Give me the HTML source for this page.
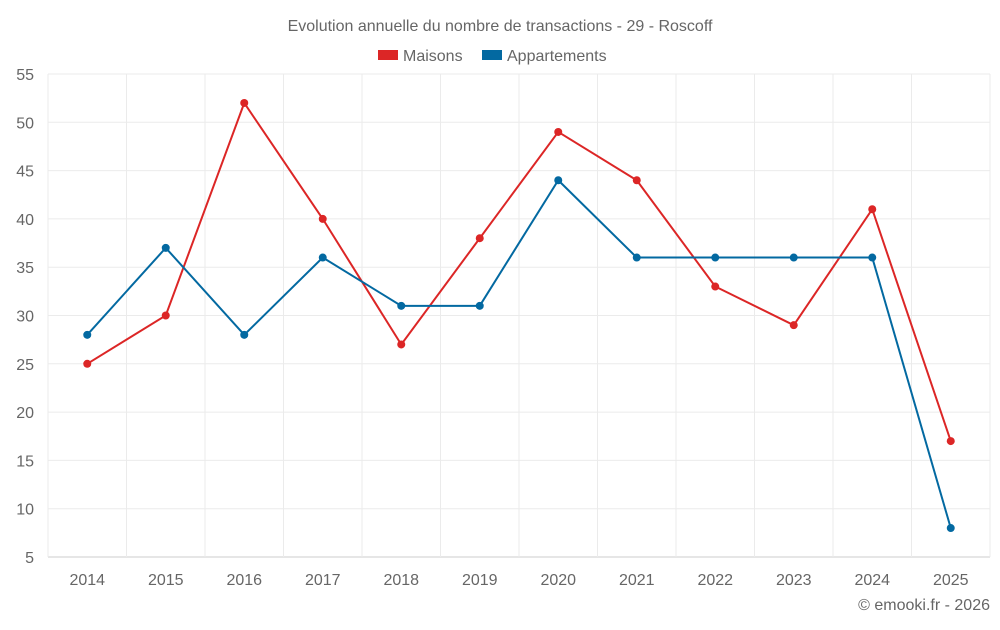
<!DOCTYPE html>
<html><head><meta charset="utf-8"><style>
body{margin:0;background:#fff;font-family:"Liberation Sans",sans-serif;}
svg text{font-family:"Liberation Sans",sans-serif;fill:#666;}
</style></head><body>
<svg id="c" width="1000" height="625">
<text x="500" y="31" text-anchor="middle" font-size="16">Evolution annuelle du nombre de transactions - 29 - Roscoff</text>
<g>
<rect x="378" y="50" width="20" height="10" fill="#dc2626"/>
<text x="403" y="61" font-size="16">Maisons</text>
<rect x="482" y="50" width="20" height="10" fill="#0369a1"/>
<text x="507" y="61" font-size="16">Appartements</text>
</g>
<text x="990" y="610" text-anchor="end" font-size="16">© emooki.fr - 2026</text>
</svg>
<script>
const categories=["2014","2015","2016","2017","2018","2019","2020","2021","2022","2023","2024","2025"];
const maisons=[25,30,52,40,27,38,49,44,33,29,41,17];
const appartements=[28,37,28,36,31,31,44,36,36,36,36,8];
const yTicks=[5,10,15,20,25,30,35,40,45,50,55];
const svg=document.getElementById('c');
const NS='http://www.w3.org/2000/svg';
const L=48,R=990,T=74,B=557,yMin=5,yMax=55;
const step=(R-L)/categories.length;
const x=i=>L+step*(i+0.5);
const y=v=>B-(v-yMin)/(yMax-yMin)*(B-T);
function mk(t,a){const e=document.createElementNS(NS,t);for(const k in a)e.setAttribute(k,a[k]);svg.appendChild(e);return e;}
yTicks.forEach(v=>{
 const g=mk('line',{x1:L,x2:R,y1:y(v),y2:y(v),stroke:v===yMin?'#ccc':'#ebebeb'});
 
 
 const t=mk('text',{x:34,y:y(v)+6,'text-anchor':'end','font-size':16});t.textContent=v;
 
 
});
for(let i=0;i<=categories.length;i++){
 const g=mk('line',{x1:L+step*i,x2:L+step*i,y1:T,y2:B,stroke:'#ebebeb'});
 
 
}
categories.forEach((c,i)=>{
 const t=mk('text',{x:x(i),y:585,'text-anchor':'middle','font-size':16});t.textContent=c;
 
 
});
function series(d,col,name){
 const p=mk('polyline',{points:d.map((v,i)=>x(i)+','+y(v)).join(' '),fill:'none',stroke:col,'stroke-width':2});
 
 
 d.forEach((v,i)=>{
  const c=mk('circle',{cx:x(i),cy:y(v),r:4,fill:col});
  
  
 });
}
series(maisons,'#dc2626','maisons');
series(appartements,'#0369a1','appartements');
</script>
</body></html>
